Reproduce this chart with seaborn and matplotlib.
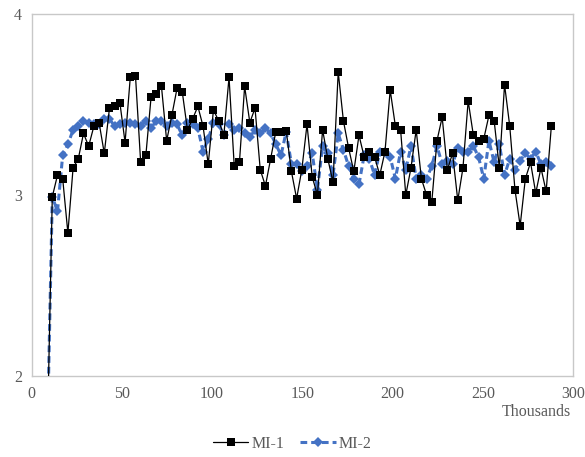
import numpy as np
import pandas as pd
import matplotlib
matplotlib.use("Agg")
import matplotlib.pyplot as plt
import seaborn as sns

# step index k -> thousands = 2.88 * k  (k = 3 .. 100)
steps_k = list(range(3, 101))
step_size = 2.88

mi1 = [1.60,
       2.99, 3.11, 3.09, 2.79, 3.15, 3.20, 3.34, 3.27, 3.38, 3.40,
       3.23, 3.48, 3.49, 3.51, 3.29, 3.65, 3.66, 3.18, 3.22, 3.54,
       3.56, 3.60, 3.30, 3.44, 3.59, 3.57, 3.36, 3.42, 3.49, 3.38,
       3.17, 3.47, 3.41, 3.33, 3.65, 3.16, 3.18, 3.60, 3.40, 3.48,
       3.14, 3.05, 3.20, 3.35, 3.35, 3.355, 3.13, 2.98, 3.14, 3.39,
       3.10, 3.00, 3.36, 3.20, 3.07, 3.68, 3.41, 3.26, 3.13, 3.33,
       3.21, 3.24, 3.21, 3.11, 3.24, 3.58, 3.38, 3.36, 3.00, 3.15,
       3.36, 3.09, 3.00, 2.96, 3.30, 3.43, 3.14, 3.23, 2.97, 3.15,
       3.52, 3.33, 3.30, 3.31, 3.44, 3.41, 3.15, 3.61, 3.38, 3.03,
       2.83, 3.09, 3.18, 3.01, 3.15, 3.02, 3.38]

mi2 = [1.60,
       2.99, 2.91, 3.22, 3.28, 3.36, 3.38, 3.41, 3.40, 3.39, 3.39,
       3.42, 3.42, 3.38, 3.39, 3.40, 3.40, 3.39, 3.38, 3.41, 3.37,
       3.41, 3.41, 3.38, 3.40, 3.39, 3.33, 3.40, 3.39, 3.37, 3.24,
       3.31, 3.40, 3.39, 3.33, 3.39, 3.36, 3.37, 3.34, 3.32, 3.36,
       3.34, 3.37, 3.34, 3.28, 3.22, 3.35, 3.17, 3.17, 3.13, 3.16,
       3.23, 3.03, 3.27, 3.23, 3.11, 3.34, 3.25, 3.16, 3.09, 3.06,
       3.22, 3.20, 3.11, 3.24, 3.24, 3.21, 3.09, 3.24, 3.14, 3.27,
       3.09, 3.11, 3.09, 3.16, 3.27, 3.17, 3.19, 3.17, 3.26, 3.24,
       3.24, 3.27, 3.21, 3.09, 3.30, 3.18, 3.28, 3.11, 3.20, 3.14,
       3.19, 3.23, 3.20, 3.24, 3.17, 3.18, 3.16]

x_ticks = [0, 50, 100, 150, 200, 250, 300]
y_ticks = [2, 3, 4]
series_names = ["MI-1", "MI-2"]
x_label = "Thousands"

x_vals = [round(step_size * k, 2) for k in steps_k]
df = pd.DataFrame({"x": x_vals, "MI-1": mi1, "MI-2": mi2})

sns.set_theme(style="white")
plt.rcParams["font.family"] = ["Liberation Serif", "DejaVu Serif"]

fig = plt.figure(figsize=(5.85, 4.57), dpi=100)
ax = fig.add_axes([31.5 / 585, 1 - 376 / 457, (573 - 31.5) / 585, (376 - 14) / 457])

blue = "#4472C4"
sns.lineplot(data=df, x="x", y="MI-2", ax=ax, color=blue, linestyle=(0, (2.2, 1.3)),
             linewidth=2.2, marker="D", markersize=5.5, markeredgewidth=0,
             label=series_names[1], zorder=2)
sns.lineplot(data=df, x="x", y="MI-1", ax=ax, color="black", linewidth=0.9,
             marker="s", markersize=6, markeredgewidth=0,
             label=series_names[0], zorder=3)

ax.set_xlim(0, 300)
ax.set_ylim(2, 4)
ax.set_xticks(x_ticks)
ax.set_yticks(y_ticks)
ax.set_xticklabels([str(t) for t in x_ticks])
ax.set_yticklabels([str(t) for t in y_ticks])
ax.set_xlabel("")
ax.set_ylabel("")
for s in ax.spines.values():
    s.set_color("#c8c8c8")
    s.set_linewidth(1.0)
ax.tick_params(axis="both", which="major", labelsize=11.5, colors="#595959",
               length=4, width=0.8, direction="out", pad=3)
ax.tick_params(axis="both", color="#c8c8c8")

fig.text(571 / 585, 1 - 412 / 457, x_label, ha="right", va="center",
         fontsize=11.5, color="#595959")

handles, labels = ax.get_legend_handles_labels()
order = [labels.index(n) for n in series_names]
ax.legend([handles[i] for i in order], [labels[i] for i in order],
          loc="center", bbox_to_anchor=(0.5, 1 - 444 / 457),
          bbox_transform=fig.transFigure, ncol=2, frameon=False,
          fontsize=11.5, handlelength=2.2, handletextpad=0.2, columnspacing=1.0,
          labelcolor="#595959")

fig.savefig("out.png", dpi=100)
